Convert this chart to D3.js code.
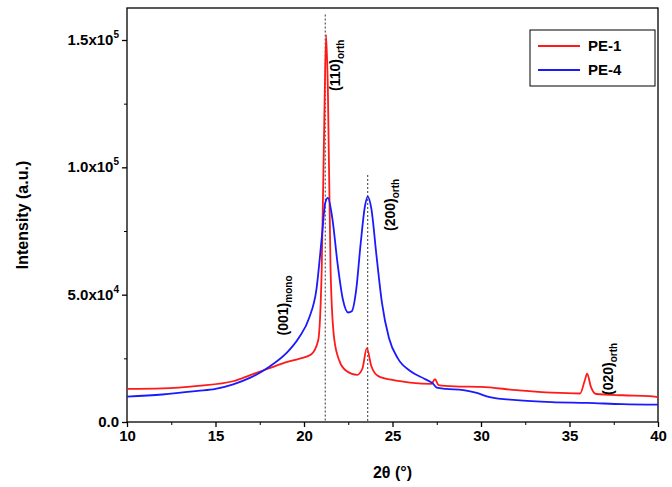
<!DOCTYPE html>
<html><head><meta charset="utf-8">
<script src="https://cdn.jsdelivr.net/npm/d3@7"></script>
<style>body{margin:0;background:#fff}text{font-family:Arial,"Liberation Sans",sans-serif}</style>
</head><body><svg id="c" width="672" height="487"></svg>
<script>
// PE-1 (red) and PE-4 (blue) XRD traces, [2theta, intensity]
const pe1 = [[10,13000],[12,13200],[14,14200],[16,16000],[17,18500],[18,21000],[19,23500],[19.8,25000],[20.4,26500],[20.8,32000],[21.0,60000],[21.15,120000],[21.25,152000],[21.35,130000],[21.5,60000],[21.7,33000],[22,24000],[22.4,20000],[23,18500],[23.3,21000],[23.55,29000],[23.8,22000],[24.2,18000],[25,16500],[26,15500],[27.2,15000],[27.4,16800],[27.6,14500],[28.5,14000],[30,13800],[32,12500],[34,11500],[35.6,11200],[35.85,16000],[36,19000],[36.2,14000],[36.5,11000],[38,10500],[39.5,10200],[40,9800]];
const pe4 = [[10,10000],[12,10800],[14,12200],[15,13000],[16,14800],[17,17500],[18,21500],[19,27000],[19.7,33000],[20.3,41000],[20.7,52000],[21.0,72000],[21.2,86000],[21.35,88000],[21.6,80000],[21.9,62000],[22.2,48000],[22.5,43000],[22.7,43500],[22.95,52000],[23.2,70000],[23.45,85000],[23.6,88500],[23.8,84000],[24.1,65000],[24.4,47000],[24.8,33000],[25.3,25000],[26,20000],[26.8,17000],[27.3,15000],[27.5,13500],[28,13000],[29,12500],[29.7,11500],[30.5,9800],[32,8600],[34,7800],[36,7500],[38,7000],[40,6800]];
const yTicks = [0, 50000, 100000, 150000];
const yTickLabels = ["0.0", "5.0x10<sup>4</sup>", "1.0x10<sup>5</sup>", "1.5x10<sup>5</sup>"];
const xTicks = [10, 15, 20, 25, 30, 35, 40];
const series = [{name: "PE-1", data: pe1, color: "#ff1a1a"}, {name: "PE-4", data: pe4, color: "#1a1aff"}];
const peaks = [{x: 21.2, top: 160000}, {x: 23.6, top: 97000}];
const labels = [{x: 22.05, y: 130000, t: "(110)", s: "orth"}, {x: 25.15, y: 75000, t: "(200)", s: "orth"},
  {x: 19.1, y: 34000, t: "(001)", s: "mono"}, {x: 37.45, y: 10600, t: "(020)", s: "orth"}];

const svg = d3.select("#c");
const m = {l: 127, r: 658, t: 8, b: 422};
const x = d3.scaleLinear().domain([10, 40]).range([m.l, m.r]);
const y = d3.scaleLinear().domain([0, 150000]).range([m.b, 40]);

svg.append("rect").attr("x", m.l).attr("y", m.t).attr("width", m.r - m.l).attr("height", m.b - m.t)
  .attr("fill", "none").attr("stroke", "#000").attr("stroke-width", 1.3);

const xa = svg.append("g").attr("transform", `translate(0,${m.b})`)
  .call(d3.axisBottom(x).tickValues(xTicks).tickSize(5).tickFormat(d3.format("d")));
const ya = svg.append("g").attr("transform", `translate(${m.l},0)`)
  .call(d3.axisLeft(y).tickValues(yTicks).tickSize(5).tickFormat(""));
[xa, ya].forEach(a => { a.select(".domain").remove(); a.selectAll("line").attr("stroke-width", 1.3);
  a.selectAll("text").attr("font-size", 15).attr("font-weight", "bold").attr("fill", "#000"); });
// minor ticks
svg.append("g").attr("transform", `translate(0,${m.b})`)
  .call(d3.axisBottom(x).tickValues(d3.range(12.5, 40, 5)).tickSize(3).tickFormat(""))
  .call(g => g.select(".domain").remove());
svg.append("g").attr("transform", `translate(${m.l},0)`)
  .call(d3.axisLeft(y).tickValues([25000, 75000, 125000]).tickSize(3).tickFormat(""))
  .call(g => g.select(".domain").remove());

yTicks.forEach((v, i) => {
  const t = svg.append("text").attr("x", m.l - 8).attr("y", y(v) + 5).attr("text-anchor", "end")
    .attr("font-size", 15).attr("font-weight", "bold");
  const parts = yTickLabels[i].split(/<sup>|<\/sup>/);
  t.append("tspan").text(parts[0]);
  if (parts[1]) t.append("tspan").attr("dy", -7).attr("font-size", 10).text(parts[1]);
});

svg.append("text").attr("x", (m.l + m.r) / 2).attr("y", 478).attr("text-anchor", "middle")
  .attr("font-size", 16).attr("font-weight", "bold").text("2θ (°)");
svg.append("text").attr("transform", `translate(28,${(m.t + m.b) / 2}) rotate(-90)`).attr("text-anchor", "middle")
  .attr("font-size", 16).attr("font-weight", "bold").text("Intensity (a.u.)");

peaks.forEach(p => svg.append("line").attr("x1", x(p.x)).attr("x2", x(p.x))
  .attr("y1", Math.max(y(p.top), m.t)).attr("y2", m.b).attr("stroke", "#333").attr("stroke-dasharray", "2,2"));

const line = d3.line().x(d => x(d[0])).y(d => y(d[1])).curve(d3.curveMonotoneX);
series.forEach(s => svg.append("path").datum(s.data).attr("d", line)
  .attr("fill", "none").attr("stroke", s.color).attr("stroke-width", 1.8));

labels.forEach(l => {
  const t = svg.append("text").attr("transform", `translate(${x(l.x)},${y(l.y)}) rotate(-90)`)
    .attr("font-size", 14).attr("font-weight", "bold");
  t.append("tspan").text(l.t);
  t.append("tspan").attr("dy", 4).attr("font-size", 10).text(l.s);
});

const lg = svg.append("g").attr("transform", "translate(530,30)");
lg.append("rect").attr("width", 125).attr("height", 56).attr("fill", "#fff").attr("stroke", "#000");
series.forEach((s, i) => {
  lg.append("line").attr("x1", 8).attr("x2", 50).attr("y1", 16 + i * 24).attr("y2", 16 + i * 24)
    .attr("stroke", s.color).attr("stroke-width", 2);
  lg.append("text").attr("x", 58).attr("y", 21 + i * 24).attr("font-size", 15).attr("font-weight", "bold").text(s.name);
});
</script></body></html>
